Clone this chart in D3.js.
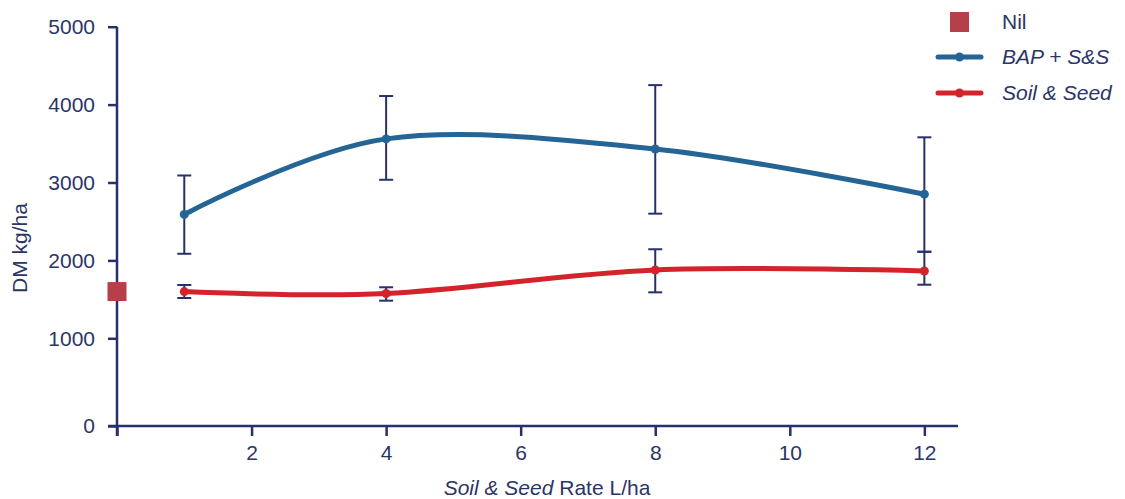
<!DOCTYPE html>
<html>
<head>
<meta charset="utf-8">
<script src="https://cdn.jsdelivr.net/npm/d3@7"></script>
<style>
  body { margin: 0; background: #fff; }
  text { font-family: "Liberation Sans", Arial, sans-serif; fill: #2b3566; }
</style>
</head>
<body>
<svg id="chart" width="1125" height="499"></svg>
<script>
const rates = [1, 4, 8, 12];
const bapMean = [2590, 3560, 3430, 2850];
const bapLow = [2085, 3035, 2600, 2110];
const bapHigh = [3090, 4110, 4250, 3580];
const soilMean = [1600, 1575, 1877, 1864];
const soilLow = [1517, 1483, 1590, 1688];
const soilHigh = [1684, 1655, 2143, 2112];
const nilValue = 1600;
const xTicks = [2, 4, 6, 8, 10, 12];
const yTicks = [0, 1000, 2000, 3000, 4000, 5000];

const navy = "#27306a";
const blue = "#246595";
const red = "#d4232b";
const nilColor = "#b5404a";
const fontSize = "21px";

const svg = d3.select("#chart");

const x = d3.scaleLinear().domain([0, 12.5]).range([117, 958]);
// the original axis has a slightly larger gap between 0 and 1000
const y = d3.scaleLinear().domain([0, 1000, 5000]).range([426, 338.3, 26.7]);

// axes
const xAxis = svg.append("g")
    .attr("transform", "translate(0,426)")
    .call(d3.axisBottom(x).tickValues([0].concat(xTicks)).tickSize(10).tickPadding(9)
        .tickFormat(d => d === 0 ? "" : d));
xAxis.select(".domain").attr("d", "M108,0H958").attr("stroke", navy).attr("stroke-width", 2.5);
xAxis.selectAll(".tick line").attr("stroke", navy).attr("stroke-width", 2.5);
xAxis.selectAll(".tick text").style("font-size", fontSize).attr("fill", "#2b3566")
    .attr("font-family", null);

const yAxis = svg.append("g")
    .attr("transform", "translate(117,0)")
    .call(d3.axisLeft(y).tickValues(yTicks).tickSize(9).tickPadding(13).tickFormat(d3.format("d")));
yAxis.select(".domain").attr("d", "M0,26.7V436").attr("stroke", navy).attr("stroke-width", 2.5);
yAxis.selectAll(".tick line").attr("stroke", navy).attr("stroke-width", 2.5);
yAxis.selectAll(".tick text").style("font-size", fontSize).attr("fill", "#2b3566")
    .attr("font-family", null);

// axis titles
const xTitle = svg.append("text")
    .attr("x", 547).attr("y", 495)
    .attr("text-anchor", "middle")
    .style("font-size", fontSize);
xTitle.append("tspan").attr("font-style", "italic").text("Soil & Seed");
xTitle.append("tspan").text(" Rate L/ha");

svg.append("text")
    .attr("transform", "translate(27,248) rotate(-90)")
    .attr("text-anchor", "middle")
    .style("font-size", fontSize)
    .text("DM kg/ha");

// error bars
function errorBars(low, high) {
    const g = svg.append("g").attr("stroke", navy).attr("stroke-width", 2);
    rates.forEach((r, i) => {
        g.append("line").attr("x1", x(r)).attr("x2", x(r)).attr("y1", y(low[i])).attr("y2", y(high[i]));
        [low[i], high[i]].forEach(v => {
            g.append("line").attr("x1", x(r) - 7).attr("x2", x(r) + 7).attr("y1", y(v)).attr("y2", y(v));
        });
    });
}
errorBars(bapLow, bapHigh);
errorBars(soilLow, soilHigh);

// smoothed lines
const line = d3.line()
    .x((d, i) => x(rates[i]))
    .y(d => y(d))
    .curve(d3.curveCardinal.tension(0));

function series(values, color) {
    svg.append("path")
        .datum(values)
        .attr("d", line)
        .attr("fill", "none")
        .attr("stroke", color)
        .attr("stroke-width", 5)
        .attr("stroke-linecap", "round");
    svg.append("g").selectAll("circle")
        .data(values)
        .join("circle")
        .attr("cx", (d, i) => x(rates[i]))
        .attr("cy", d => y(d))
        .attr("r", 4.5)
        .attr("fill", color);
}
series(bapMean, blue);
series(soilMean, red);

// nil marker
svg.append("rect")
    .attr("x", x(0) - 9.5).attr("y", y(nilValue) - 9.5)
    .attr("width", 19).attr("height", 19)
    .attr("fill", nilColor);

// legend
const legend = svg.append("g");
legend.append("rect").attr("x", 950).attr("y", 12).attr("width", 19).attr("height", 20).attr("fill", nilColor);
legend.append("text").attr("x", 1002).attr("y", 29).style("font-size", fontSize).text("Nil");

[["BAP + S&S", blue, 57], ["Soil & Seed", red, 93]].forEach(([label, color, ly]) => {
    legend.append("line").attr("x1", 938).attr("x2", 981).attr("y1", ly).attr("y2", ly)
        .attr("stroke", color).attr("stroke-width", 5).attr("stroke-linecap", "round");
    legend.append("circle").attr("cx", 959.5).attr("cy", ly).attr("r", 4.5).attr("fill", color);
    legend.append("text").attr("x", 1002).attr("y", ly + 7).attr("font-style", "italic")
        .style("font-size", fontSize).text(label);
});
</script>
</body>
</html>
